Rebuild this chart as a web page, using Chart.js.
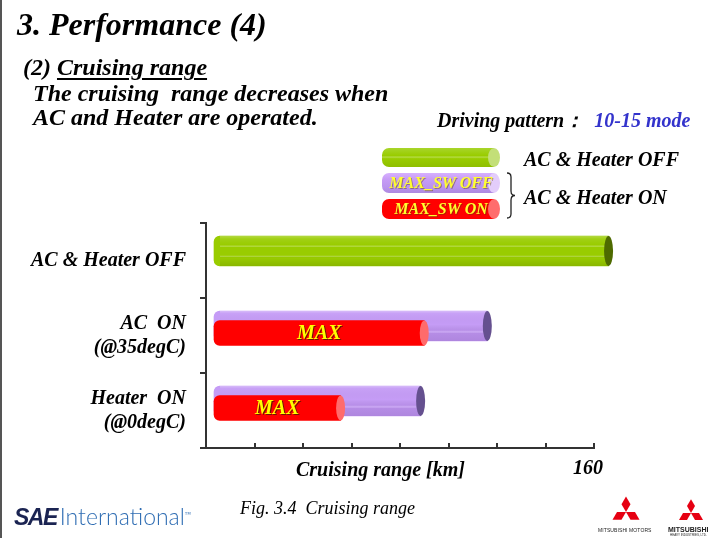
<!DOCTYPE html>
<html>
<head>
<meta charset="utf-8">
<script src="https://cdn.jsdelivr.net/npm/chart.js@4"></script>
<style>
  html, body { margin: 0; padding: 0; background: #fff; }
  #slide { position: relative; width: 721px; height: 538px; overflow: hidden; background: #fff; border-left: 2px solid #555; box-sizing: border-box; }
  #chart-box { position: absolute; left: -2px; top: 0; width: 721px; height: 538px; }
  .t { position: absolute; font-family: "Liberation Serif", "Times New Roman", serif; font-style: italic; font-weight: bold; line-height: 1; white-space: pre; color: #000; }
  .title { left: 15px; top: 8px; font-size: 32px; }
  .sub { left: 21px; top: 55px; font-size: 24px; }
  .sub u { text-decoration-thickness: 1.5px; text-underline-offset: 3px; }
  .body1 { left: 31px; top: 81px; font-size: 24px; }
  .body2 { left: 31px; top: 105px; font-size: 24px; }
  .pattern { left: 435px; top: 110px; font-size: 20px; }
  .pattern span { color: #3333cc; }
  .leg-text { font-size: 20px; left: 522px; }
  .axis-title { left: 294px; top: 459px; font-size: 20px; }
  .fig { left: 238px; top: 499px; font-size: 18px; font-weight: normal; }
  .cyl { position: absolute; left: 380px; width: 112px; border-radius: 7px 0 0 7px; }
  .cyl::after { content: ""; position: absolute; right: -6px; top: 0; width: 12px; height: 100%; border-radius: 50%; background: var(--cap); }
  .cyl.green { top: 148px; height: 19px; background: linear-gradient(#a8d52a, #99cc00 40%, #b5da45 48%, #99cc00 56%, #8fbf00); --cap: #c3df78; }
  .cyl.purple { top: 173px; height: 20px; background: linear-gradient(#d6b0ff, #c79cf6 30%, #bb94ee 70%, #ad89e0); --cap: #e3cdfb; }
  .cyl.red { top: 199px; height: 20px; background: #ff0000; --cap: #ff6d6d; }
  .cyl span { position: absolute; left: 0; right: -6px; top: 0; bottom: 0; z-index: 1; text-align: center; font-family: "Liberation Serif", serif; font-style: italic; font-weight: bold; font-size: 16px; line-height: 20px; color: #ffff2e; text-shadow: 1px 1px 0 rgba(90,60,0,0.45); }
  .sae { position: absolute; left: 12px; top: 505px; font-size: 23px; line-height: 1; white-space: nowrap; }
  .sae b { font-family: "Liberation Sans", Arial, sans-serif; font-style: italic; font-weight: 900; color: #1b2452; letter-spacing: -1.5px; margin-right: 3px; }
  .sae i { font-family: Lato, "Open Sans", sans-serif; font-style: normal; font-weight: 300; color: #2f6db3; }
  .mm { position: absolute; font-family: "Liberation Sans", Arial, sans-serif; white-space: nowrap; color: #222; }
</style>
</head>
<body>
<div id="slide">
  <div id="chart-box"><canvas id="chart"></canvas></div>

  <div class="t title">3. Performance (4)</div>
  <div class="t sub">(2) <u>Cruising range</u></div>
  <div class="t body1">The cruising  range decreases when</div>
  <div class="t body2">AC and Heater are operated.</div>
  <div class="t pattern">Driving pattern：  <span>10-15 mode</span></div>

  <div class="cyl green"></div>
  <div class="cyl purple"><span>MAX_SW OFF</span></div>
  <div class="cyl red"><span>MAX_SW ON</span></div>
  <svg style="position:absolute;left:0;top:0" width="721" height="538">
    <path d="M505,173 Q509,173 509,177 L509,191 Q509,195.5 513,195.5 Q509,195.5 509,200 L509,214 Q509,218 505,218" fill="none" stroke="#222" stroke-width="1.3"/>
  </svg>
  <div class="t leg-text" style="top:149px">AC &amp; Heater OFF</div>
  <div class="t leg-text" style="top:187px">AC &amp; Heater ON</div>

  <div class="t axis-title">Cruising range [km]</div>
  <div class="t fig">Fig. 3.4  Cruising range</div>

  <div class="sae"><b>SAE</b><i>International</i><sup style="font-size:6px;color:#2f6db3">™</sup></div>

  <svg id="logos" style="position:absolute;left:0;top:0" width="721" height="538"></svg>
  <div class="mm" style="left:596px;top:527px;font-size:5px;letter-spacing:0.1px">MITSUBISHI MOTORS</div>
  <div class="mm" style="left:666px;top:526px;font-size:7px;font-weight:bold">MITSUBISHI</div>
  <div class="mm" style="left:668px;top:533px;font-size:3px">HEAVY INDUSTRIES, LTD.</div>
</div>

<script>
// categories and values (km)
const categories = [["AC & Heater OFF"], ["AC  ON", "(@35degC)"], ["Heater  ON", "(@0degC)"]]
const heaterOff = [166, null, null]
const maxSwOff = [null, 116, 88.5]
const maxSwOn = [null, 90, 55.5]
const rangeMin = 0
const rangeMax = 160
const rangeStep = 20
const maxLabel = "MAX"

const serif = "'Liberation Serif', 'Times New Roman', serif"

// shifts each bar set, adds the shading, the cylinder end cap and the MAX text
const cylinderPlugin = {
  id: "cylinder",
  beforeDatasetDraw(chart, args) {
    const ds = chart.data.datasets[args.index]
    chart.ctx.save()
    chart.ctx.translate(0, ds.shiftY || 0)
  },
  afterDatasetDraw(chart, args) {
    const ctx = chart.ctx
    const ds = chart.data.datasets[args.index]
    args.meta.data.forEach((bar, i) => {
      if (ds.data[i] == null) return
      const { x, y, base, height } = bar.getProps(["x", "y", "base", "height"], true)
      const top = y - height / 2
      if (ds.shade) {
        const g = ctx.createLinearGradient(0, top, 0, top + height)
        ds.shade.forEach(([stop, color]) => g.addColorStop(stop, color))
        ctx.fillStyle = g
        ctx.fillRect(base + 6, top, x - base - 6, height)
      }
      ctx.fillStyle = ds.capColor
      ctx.beginPath()
      ctx.ellipse(x, y, 4.5, height / 2, 0, 0, Math.PI * 2)
      ctx.fill()
      if (ds.innerLabel) {
        const cx = (base + x) / 2
        ctx.font = `italic bold 20px ${serif}`
        ctx.textAlign = "center"
        ctx.textBaseline = "middle"
        ctx.fillStyle = "rgba(60,30,0,0.75)"
        ctx.fillText(ds.innerLabel, cx + 1.2, y + 2.2)
        ctx.fillStyle = "#ffff00"
        ctx.fillText(ds.innerLabel, cx, y + 1)
      }
    })
    ctx.restore()
  },
}

const common = {
  grouped: false,
  base: 3.3,
  borderSkipped: false,
  borderRadius: { topLeft: 6, bottomLeft: 6, topRight: 0, bottomRight: 0 },
  clip: false,
}

new Chart(document.getElementById("chart"), {
  type: "bar",
  data: {
    labels: categories,
    datasets: [
      {
        ...common,
        label: "AC & Heater OFF",
        data: heaterOff,
        backgroundColor: "#99cc00",
        capColor: "#4e6a00",
        barThickness: 30,
        shiftY: -9.5,
        order: 2,
        shade: [
          [0, "rgba(255,255,255,0.25)"], [0.1, "rgba(255,255,255,0.08)"],
          [0.3, "rgba(255,255,255,0)"], [0.34, "rgba(255,255,255,0.3)"], [0.38, "rgba(255,255,255,0)"],
          [0.64, "rgba(255,255,255,0)"], [0.68, "rgba(255,255,255,0.28)"], [0.72, "rgba(0,0,0,0)"],
          [1, "rgba(0,0,0,0.1)"],
        ],
      },
      {
        ...common,
        label: "MAX_SW OFF",
        data: maxSwOff,
        backgroundColor: "#c59cf6",
        capColor: "#65508f",
        barThickness: 30,
        shiftY: -9.5,
        order: 1,
        shade: [
          [0, "rgba(255,255,255,0.3)"], [0.08, "rgba(255,255,255,0.05)"],
          [0.45, "rgba(0,0,0,0)"], [0.62, "rgba(40,0,80,0.08)"], [0.7, "rgba(255,255,255,0.2)"],
          [0.75, "rgba(40,0,80,0.1)"], [1, "rgba(40,0,80,0.14)"],
        ],
      },
      {
        ...common,
        label: "MAX_SW ON",
        data: maxSwOn,
        backgroundColor: "#ff0000",
        capColor: "#ff6b6b",
        barThickness: 25,
        shiftY: -2.5,
        order: 0,
        innerLabel: maxLabel,
      },
    ],
  },
  options: {
    indexAxis: "y",
    responsive: true,
    maintainAspectRatio: false,
    animation: false,
    layout: { padding: { top: 223, right: 127, bottom: 0, left: 0 } },
    plugins: {
      legend: { display: false },
      tooltip: { enabled: false },
    },
    scales: {
      x: {
        type: "linear",
        min: rangeMin,
        max: rangeMax,
        afterFit: (scale) => { scale.height = 90 },
        border: { display: true, color: "#333", width: 2 },
        grid: { drawOnChartArea: false, drawTicks: true, tickLength: -5, color: "#333", lineWidth: 2 },
        ticks: {
          stepSize: rangeStep,
          padding: 14,
          labelOffset: -6,
          color: "#000",
          font: { family: serif, size: 20, style: "italic", weight: "bold" },
          callback: (value) => (value === rangeMax ? String(value) : ""),
        },
      },
      y: {
        afterFit: (scale) => { scale.width = 206 },
        border: { display: true, color: "#333", width: 2 },
        grid: { drawOnChartArea: false, drawTicks: true, tickLength: 6, color: "#333", lineWidth: 2, offset: true },
        ticks: {
          padding: 14,
          color: "#000",
          font: { family: serif, size: 20, style: "italic", weight: "bold", lineHeight: 1.2 },
        },
      },
    },
  },
  plugins: [cylinderPlugin],
})

// Mitsubishi three-diamond marks
const logos = document.getElementById("logos")
function diamonds(cx, cy, s) {
  ;[-90, 30, 150].forEach((deg) => {
    const a = (deg * Math.PI) / 180
    const pt = (r, da) => [cx + r * Math.cos(a + da), cy + r * Math.sin(a + da)]
    const p1 = pt(s, Math.PI / 6), p2 = pt(s * Math.sqrt(3), 0), p3 = pt(s, -Math.PI / 6)
    const poly = document.createElementNS("http://www.w3.org/2000/svg", "polygon")
    poly.setAttribute("points", [[cx, cy], p1, p2, p3].map((p) => p.join(",")).join(" "))
    poly.setAttribute("fill", "#e60012")
    logos.appendChild(poly)
  })
}
diamonds(624, 512, 9)
diamonds(689, 513, 8)
</script>
</body>
</html>
